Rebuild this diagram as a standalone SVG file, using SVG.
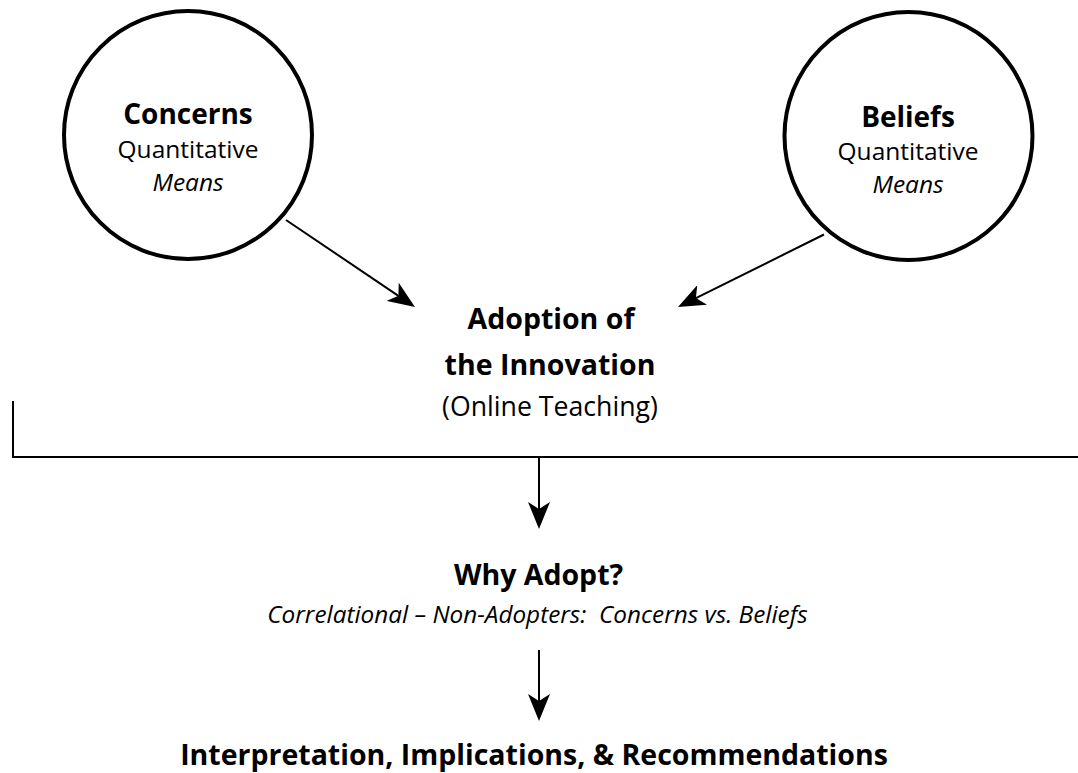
<svg xmlns="http://www.w3.org/2000/svg" width="1078" height="773" viewBox="0 0 1078 773">
<style>
  text { font-family: "Open Sans", "Noto Sans", "Liberation Sans", sans-serif; fill: #000; text-anchor: middle; white-space: pre; }
  .b { font-weight: 700; font-size: 28.5px; }
  .bc { font-weight: 700; font-size: 28px; }
  .r { font-weight: 400; font-size: 24.5px; }
  .on { font-weight: 400; font-size: 26.7px; }
  .i { font-style: italic; font-size: 24.5px; }
  .sub { font-style: italic; font-size: 24.3px; }
  .circ { fill: #fff; stroke: #000; stroke-width: 4; }
  .ln { fill: none; stroke: #000; stroke-width: 2; }
</style>
<defs>
  <marker id="ah" markerUnits="userSpaceOnUse" viewBox="0 0 27 22" markerWidth="27" markerHeight="22" refX="7" refY="11" orient="auto">
    <path d="M0,0 L27,11 L0,22 L7,11 Z" fill="#000"/>
  </marker>
</defs>
<rect width="1078" height="773" fill="#fff"/>
<g id="connectors">
  <line class="ln" x1="286" y1="220" x2="398.4" y2="295.8" marker-end="url(#ah)"/>
  <line class="ln" x1="824" y1="234.5" x2="695.9" y2="298.1" marker-end="url(#ah)"/>
  <polyline class="ln" points="13,401 13,457 1078,457"/>
  <line class="ln" x1="539" y1="457" x2="539" y2="509" marker-end="url(#ah)"/>
  <line class="ln" x1="539" y1="650" x2="539" y2="701" marker-end="url(#ah)"/>
</g>
<g id="concerns">
  <circle class="circ" cx="188" cy="135" r="124"/>
  <text class="bc" x="188" y="124">Concerns</text>
  <text class="r" x="188" y="158">Quantitative</text>
  <text class="i" x="188" y="190.5">Means</text>
</g>
<g id="beliefs">
  <circle class="circ" cx="908.5" cy="136" r="124"/>
  <text class="bc" x="908" y="127">Beliefs</text>
  <text class="r" x="908" y="160">Quantitative</text>
  <text class="i" x="908" y="193">Means</text>
</g>
<g id="adoption">
  <text class="b" x="551" y="329">Adoption of</text>
  <text class="b" x="550" y="375">the Innovation</text>
  <text class="on" x="550" y="416">(Online Teaching)</text>
</g>
<g id="why">
  <text class="b" x="538.5" y="585">Why Adopt?</text>
  <text class="sub" x="537.5" y="623">Correlational – Non-Adopters:  Concerns vs. Beliefs</text>
</g>
<g id="interpretation">
  <text class="b" x="534" y="765">Interpretation, Implications, &amp; Recommendations</text>
</g>
</svg>
